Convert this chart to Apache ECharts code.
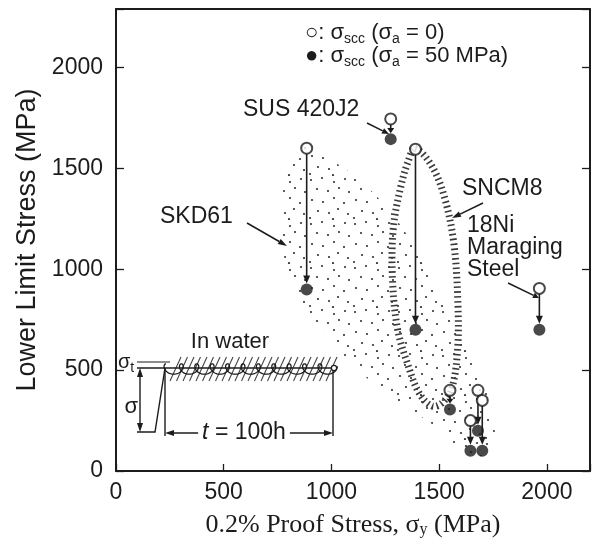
<!DOCTYPE html>
<html><head><meta charset="utf-8">
<script src="https://cdn.jsdelivr.net/npm/echarts@6/dist/echarts.min.js"></script>
<style>html,body{margin:0;padding:0;background:#fff}#c{width:593px;height:543px}</style>
</head><body><div id="c"></div>
<script>
// ---- data ----
const proofStress = [885, 1275, 1390, 1965, 1550, 1645, 1680, 1700];
const sccZero     = [1600, 1745, 1595, 905, 400, 250, 400, 350];   // open circles (σa = 0)
const sccFifty    = [900, 1645, 700, 700, 305, 100, 200, 100];     // filled circles (σa = 50 MPa)
const xTickValues = [0, 500, 1000, 1500, 2000];
const yTickValues = [0, 500, 1000, 1500, 2000];
// SKD61 dotted scatter band (outline)
const skdRegionX = [869, 984, 1122, 1260, 1375, 1490, 1605, 1697, 1752, 1752, 1697, 1605, 1490, 1306, 1122, 984, 846, 777, 768, 800];
const skdRegionY = [1609, 1550, 1450, 1302, 1129, 906, 683, 460, 262, 139, 74, 89, 213, 347, 500, 658, 856, 1079, 1302, 1500];
// SNCM8 hatched band (outline)
const sncmRegionX = [1389, 1467, 1526, 1568, 1586, 1586, 1559, 1513, 1467, 1407, 1352, 1306, 1283, 1287, 1320, 1356];
const sncmRegionY = [1599, 1510, 1351, 1129, 856, 609, 411, 337, 322, 386, 535, 708, 955, 1203, 1401, 1535];

const INK = '#1c1c1c';
const SANS = 'Liberation Sans, Arial, sans-serif';
const SERIF = 'Liberation Serif, Times New Roman, serif';

function dotPattern() {
  const c = document.createElement('canvas');
  c.width = 44; c.height = 44;
  const g = c.getContext('2d');
  g.fillStyle = '#333';
  [[3,4],[14,2],[26,6],[37,3],[9,13],[20,15],[31,12],[41,16],[4,24],[15,26],[26,22],[36,27],
   [10,35],[21,37],[30,33],[40,38],[2,42],[25,43]].forEach(([x,y]) => {
    g.beginPath(); g.arc(x, y, 1.1, 0, Math.PI*2); g.fill();
  });
  return c;
}
const dots = dotPattern();

function regionRenderer(xs, ys, style) {
  return function (params, api) {
    const pts = xs.map((x, i) => api.coord([x, ys[i]]));
    return { type: 'polygon', shape: { points: pts, smooth: 0.35 }, style: style };
  };
}

function arrowRenderer(params, api) {
  const x = api.value(0), y0 = api.value(1), y1 = api.value(2);
  const p0 = api.coord([x, y0]), p1 = api.coord([x, y1]);
  const top = p0[1] + 5.5, bot = p1[1] - 6;
  const headH = Math.min(8, (bot - top) * 0.6), headW = 3.5;
  return { type: 'group', children: [
    { type: 'line', shape: { x1: p0[0], y1: top, x2: p0[0], y2: bot - headH + 1 }, style: { stroke: INK, lineWidth: 1.6 } },
    { type: 'polygon', shape: { points: [[p0[0]-headW, bot-headH], [p0[0]+headW, bot-headH], [p0[0], bot]] }, style: { fill: INK } }
  ]};
}

// ---- annotation helpers (pixel positions) ----
function leader(x1, y1, x2, y2, head) {
  const a = Math.atan2(y2 - y1, x2 - x1), L = head || 8, W = 3;
  const bx = x2 - L*Math.cos(a), by = y2 - L*Math.sin(a);
  const nx = -Math.sin(a)*W, ny = Math.cos(a)*W;
  return [
    { type: 'line', shape: { x1, y1, x2: bx, y2: by }, style: { stroke: INK, lineWidth: 1.5 } },
    { type: 'polygon', shape: { points: [[x2, y2], [bx+nx, by+ny], [bx-nx, by-ny]] }, style: { fill: INK } }
  ];
}
function label(text, x, y, size, align) {
  return { type: 'text', x: x, y: y, style: { text: text, font: (size||23) + 'px ' + SANS, fill: INK, align: align || 'left', verticalAlign: 'middle' } };
}
const subRich = { sub: { fontSize: 14, lineHeight: 12, verticalAlign: 'bottom', fontFamily: SANS, fill: INK }, it: { fontStyle: 'italic', fontSize: 23, fontFamily: SANS, fill: INK } };
function richLabel(text, x, y, size) {
  return { type: 'text', x: x, y: y, style: { text: text, fontSize: size || 22, fontFamily: SANS, lineHeight: 26, fill: INK, verticalAlign: 'middle', rich: subRich } };
}

const graphics = [];
// legend
graphics.push(richLabel('○: σ{sub|scc} (σ{sub|a} = 0)', 305, 33, 22));
graphics.push(richLabel('●: σ{sub|scc} (σ{sub|a} = 50 MPa)', 305, 56, 22));
// material labels
graphics.push(label('SUS 420J2', 243, 110));
graphics.push(...leader(367, 123, 389, 134, 7));
graphics.push(label('SKD61', 160, 217));
graphics.push(...leader(247, 223, 287, 246, 9));
graphics.push(label('SNCM8', 462, 189));
graphics.push(...leader(483, 203, 452, 218, 9));
graphics.push(label('18Ni', 467, 226));
graphics.push(label('Maraging', 467, 248));
graphics.push(label('Steel', 467, 270));
graphics.push(...leader(508, 283, 539, 298, 6));

// inset schematic (load history in water)
(function inset() {
  const st = { stroke: INK, lineWidth: 1.4 };
  graphics.push(label('In water', 230, 342, 22, 'center'));
  // hatched water band
  for (let x = 170; x <= 326; x += 6.5) {
    graphics.push({ type: 'line', shape: { x1: x, y1: 381, x2: x + 11, y2: 357 }, style: { stroke: '#444', lineWidth: 1.1 } });
  }
  // looped (cyclic) load line
  const pts = [];
  const r = 2.45, d = 5.2;
  for (let t = 0; r*t <= 167; t += 0.15) {
    pts.push([166 + r*t - d*Math.sin(t), 368 - d*Math.cos(t) + 1]);
  }
  graphics.push({ type: 'polyline', shape: { points: pts }, style: { stroke: INK, lineWidth: 1.3, fill: null } });
  graphics.push({ type: 'line', shape: { x1: 137, y1: 368, x2: 333, y2: 368 }, style: st });
  graphics.push({ type: 'line', shape: { x1: 137, y1: 362, x2: 170, y2: 362 }, style: { stroke: INK, lineWidth: 1.1 } });
  graphics.push({ type: 'circle', shape: { cx: 334, cy: 368, r: 2.6 }, style: { stroke: INK, fill: '#fff', lineWidth: 1.2 } });
  // ramp
  graphics.push({ type: 'polyline', shape: { points: [[137, 432], [155, 432], [165, 368]] }, style: st });
  // σ double arrow
  graphics.push({ type: 'line', shape: { x1: 140, y1: 375, x2: 140, y2: 425 }, style: st });
  graphics.push({ type: 'polygon', shape: { points: [[140, 368], [137, 377], [143, 377]] }, style: { fill: INK } });
  graphics.push({ type: 'polygon', shape: { points: [[140, 432], [137, 423], [143, 423]] }, style: { fill: INK } });
  graphics.push({ type: 'text', x: 138, y: 407, style: { text: 'σ', font: '22px ' + SANS, fill: INK, align: 'right', verticalAlign: 'middle' } });
  graphics.push(richLabel('σ{sub|t}', 118, 362, 20));
  // duration
  graphics.push({ type: 'line', shape: { x1: 165, y1: 368, x2: 165, y2: 436 }, style: st });
  graphics.push({ type: 'line', shape: { x1: 333, y1: 371, x2: 333, y2: 436 }, style: st });
  graphics.push({ type: 'line', shape: { x1: 172, y1: 433, x2: 326, y2: 433 }, style: st });
  graphics.push({ type: 'polygon', shape: { points: [[165, 433], [174, 430], [174, 436]] }, style: { fill: INK } });
  graphics.push({ type: 'polygon', shape: { points: [[333, 433], [324, 430], [324, 436]] }, style: { fill: INK } });
  graphics.push({ type: 'text', x: 244, y: 433, style: { text: '{it|t} = 100h', font: '23px ' + SANS, fill: INK, align: 'center', verticalAlign: 'middle', backgroundColor: '#fff', padding: [0, 4], rich: subRich } });
})();

const axisLineStyle = { color: INK, width: 2 };
const chart = echarts.init(document.getElementById('c'), null, { renderer: 'canvas' });
chart.setOption({
  animation: false,
  backgroundColor: '#fff',
  grid: { left: 116, right: -2, top: 9, bottom: 70, containLabel: false },
  xAxis: [{
    type: 'value', min: 0, max: 2200, interval: 500, position: 'bottom',
    axisLine: { onZero: false, lineStyle: axisLineStyle },
    axisTick: { inside: true, length: 7, lineStyle: { color: INK, width: 1.3 } },
    axisLabel: { fontSize: 23, fontFamily: SANS, color: INK, margin: 10,
      formatter: v => xTickValues.indexOf(v) >= 0 ? String(v) : '' },
    splitLine: { show: false },
    name: '0.2% Proof Stress, σ{sub|y} (MPa)', nameLocation: 'middle', nameGap: 41,
    nameTextStyle: { fontSize: 26, fontFamily: SERIF, color: INK,
      rich: { sub: { fontSize: 16, lineHeight: 13, verticalAlign: 'bottom', fontFamily: SERIF, color: INK } } }
  }, {
    type: 'value', min: 0, max: 2200, position: 'top',
    axisLine: { onZero: false, lineStyle: axisLineStyle }, axisTick: { show: false }, axisLabel: { show: false }, splitLine: { show: false }
  }],
  yAxis: [{
    type: 'value', min: 0, max: 2290, interval: 500, position: 'left',
    axisLine: { onZero: false, lineStyle: axisLineStyle },
    axisTick: { inside: true, length: 8, lineStyle: { color: INK, width: 1.3 } },
    axisLabel: { fontSize: 23, fontFamily: SANS, color: INK, margin: 13,
      formatter: v => yTickValues.indexOf(v) >= 0 ? String(v) : '' },
    splitLine: { show: false },
    name: 'Lower Limit Stress (MPa)', nameLocation: 'middle', nameGap: 74,
    nameTextStyle: { fontSize: 27, fontFamily: SANS, color: INK }
  }, {
    type: 'value', min: 0, max: 2290, interval: 500, position: 'right',
    axisLine: { onZero: false, lineStyle: axisLineStyle },
    axisTick: { inside: true, length: 8, lineStyle: { color: INK, width: 1.3 } },
    axisLabel: { show: false }, splitLine: { show: false }
  }],
  series: [
    { type: 'custom', name: 'SKD61 band', renderItem: regionRenderer(skdRegionX, skdRegionY,
        { fill: { image: dots, repeat: 'repeat' }, stroke: null }), data: [[0, 0]], silent: true, z: 1 },
    { type: 'custom', name: 'SNCM8 band', renderItem: regionRenderer(sncmRegionX, sncmRegionY,
        { fill: null, stroke: '#3a3a3a', lineWidth: 7, lineDash: [1.6, 3.2] }), data: [[0, 0]], silent: true, z: 2 },
    { type: 'custom', name: 'shift', renderItem: arrowRenderer,
      data: proofStress.map((x, i) => [x, sccZero[i], sccFifty[i]]), z: 3 },
    { type: 'scatter', name: 'σa = 0', data: proofStress.map((x, i) => [x, sccZero[i]]),
      symbol: 'circle', symbolSize: 11, itemStyle: { color: '#fff', borderColor: INK, borderWidth: 2 }, z: 5 },
    { type: 'scatter', name: 'σa = 50 MPa', data: proofStress.map((x, i) => [x, sccFifty[i]]),
      symbol: 'circle', symbolSize: 12, itemStyle: { color: INK }, z: 5 }
  ],
  graphic: graphics
});
</script>
</body></html>
